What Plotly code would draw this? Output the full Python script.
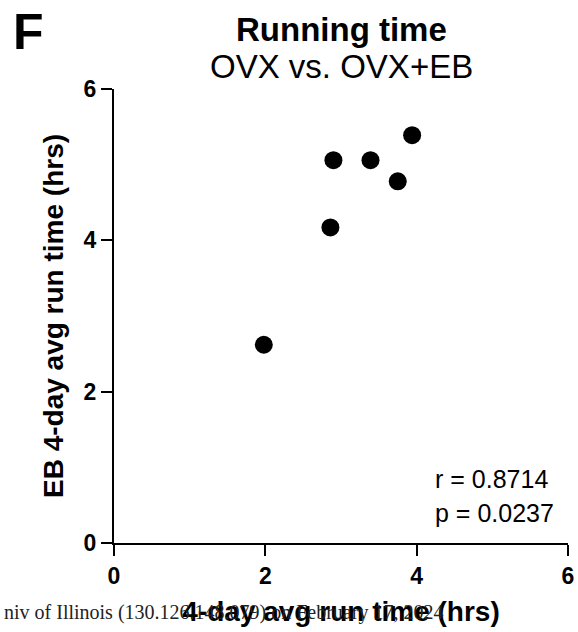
import plotly.graph_objects as go

# Data
ovx_run_time = [1.98, 2.86, 2.90, 3.39, 3.75, 3.94]       # 4-day avg run time (hrs), OVX
eb_run_time = [2.62, 4.17, 5.06, 5.06, 4.78, 5.39]        # EB 4-day avg run time (hrs)
tick_values = [0, 2, 4, 6]
tick_labels = ["<b>0</b>", "<b>2</b>", "<b>4</b>", "<b>6</b>"]
stats_lines = ["r = 0.8714", "p = 0.0237"]

FONT = "Liberation Sans, Arial, Helvetica, sans-serif"

fig = go.Figure()
fig.add_trace(go.Scatter(
    x=ovx_run_time, y=eb_run_time, mode="markers",
    marker=dict(color="black", size=18, line=dict(width=0)),
    showlegend=False, cliponaxis=False,
))

fig.update_layout(
    width=578, height=632,
    margin=dict(l=114, r=10, t=89, b=89),
    paper_bgcolor="white", plot_bgcolor="white",
    font=dict(family=FONT, color="black"),
    xaxis=dict(
        range=[0, 6], tickvals=tick_values, ticktext=tick_labels,
        showline=True, linecolor="black", linewidth=2.2,
        ticks="outside", ticklen=11, tickwidth=2.2, tickcolor="black",
        showgrid=False, zeroline=False, automargin=False,
        tickfont=dict(family=FONT, size=23, color="black"),
        title=dict(text="<b>4-day avg run time (hrs)</b>",
                   font=dict(family=FONT, size=28, color="black"), standoff=14),
    ),
    yaxis=dict(
        range=[0, 6], tickvals=tick_values, ticktext=tick_labels,
        showline=True, linecolor="black", linewidth=2.2,
        ticks="outside", ticklen=11, tickwidth=2.2, tickcolor="black",
        showgrid=False, zeroline=False, automargin=False,
        tickfont=dict(family=FONT, size=23, color="black"),
        title=dict(text="<b>EB 4-day avg run time (hrs)</b>",
                   font=dict(family=FONT, size=28, color="black"), standoff=12),
    ),
)

# Titles
fig.add_annotation(text="<b>Running time</b>", xref="paper", yref="paper",
                   x=0.5, y=1, yshift=60, xanchor="center", yanchor="middle",
                   showarrow=False, font=dict(family=FONT, size=33, color="black"))
fig.add_annotation(text="OVX vs. OVX+EB", xref="paper", yref="paper",
                   x=0.5, y=1, yshift=23, xanchor="center", yanchor="middle",
                   showarrow=False, font=dict(family=FONT, size=33, color="black"))
# Panel letter
fig.add_annotation(text="<b>F</b>", xref="paper", yref="paper",
                   x=0, y=1, xshift=-103, yshift=57, xanchor="left", yanchor="middle",
                   showarrow=False, font=dict(family=FONT, size=50, color="black"))

# Statistics
fig.add_annotation(text=stats_lines[0], xref="x", yref="y", x=4.22, y=0.85,
                   xanchor="left", yanchor="middle", showarrow=False,
                   font=dict(family=FONT, size=25, color="black"))
fig.add_annotation(text=stats_lines[1], xref="x", yref="y", x=4.22, y=0.40,
                   xanchor="left", yanchor="middle", showarrow=False,
                   font=dict(family=FONT, size=25, color="black"))

# Watermark line
fig.add_annotation(text="niv of Illinois (130.126.148.079) on February 17, 2024",
                   xref="paper", yref="paper", x=0, y=0, xshift=-112, yshift=-69,
                   xanchor="left", yanchor="middle", showarrow=False,
                   font=dict(family="Liberation Serif, Times New Roman, serif", size=20, color="#222222"))

# remove the default page margin so the figure fills the window exactly
fig.write_html(
    "out.html",
    config={"displayModeBar": False},
    post_script="document.body.style.margin='0';document.body.style.overflow='hidden';",
)
